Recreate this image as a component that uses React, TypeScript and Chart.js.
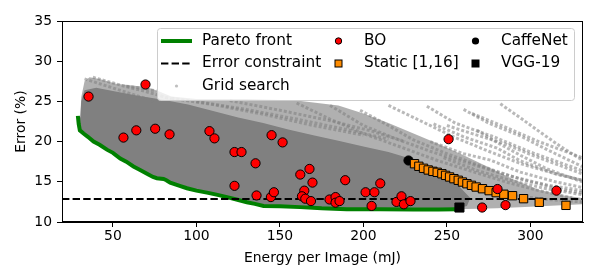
import React, { useEffect, useRef } from 'react';
import { Chart, registerables } from 'chart.js';

Chart.register(...registerables);

const FONT = '"DejaVu Sans", "Liberation Sans", sans-serif';

const xTicks = [50, 100, 150, 200, 250, 300];
const yTicks = [10, 15, 20, 25, 30, 35];

const paretoX = [29.0, 29.5, 30.2, 32.4, 35, 38.4, 42, 46.4, 50, 54.4, 58, 62.3, 66, 70.4, 74, 76.3, 80.3, 82, 84.3, 90, 94.3, 100, 106.3, 112, 118.3, 124, 130.2, 135, 140.2, 150, 162, 175, 190, 210, 230, 245, 256];
const paretoY = [23.2, 22.2, 21.4, 21.0, 20.6, 20.0, 19.6, 19.0, 18.6, 17.9, 17.5, 16.9, 16.5, 16.0, 15.6, 15.45, 15.35, 15.2, 14.9, 14.5, 14.2, 13.9, 13.65, 13.4, 13.1, 12.8, 12.45, 12.25, 12.0, 11.95, 11.85, 11.7, 11.6, 11.6, 11.55, 11.55, 11.6];

const errorConstraint = 12.85;

const boX = [35.4, 69.5, 56.3, 64, 75.3, 83.9, 107.8, 110.8, 122.8, 127, 135.4, 122.8, 136, 145, 151.6, 144.6, 146.4, 162.2, 167.7, 169.5, 164.6, 163.2, 165.2, 168.6, 189.1, 179.7, 183.3, 183.3, 185.7, 210.1, 201.3, 206.6, 204.9, 219.8, 222.8, 224.2, 228.2, 251, 271.1, 280.3, 285.1, 315.6];
const boY = [25.6, 27.1, 20.5, 21.4, 21.6, 20.9, 21.3, 20.4, 18.7, 18.7, 17.3, 14.5, 13.3, 20.8, 19.9, 13.1, 13.7, 15.9, 16.6, 14.9, 13.9, 13.2, 12.9, 12.6, 15.2, 12.8, 13.1, 12.4, 12.6, 14.8, 13.7, 13.7, 12.0, 12.5, 13.2, 12.2, 12.6, 20.3, 11.8, 14.1, 12.1, 13.9];

const staticX = [230.6, 233.2, 236.0, 238.8, 241.6, 244.2, 247.0, 249.2, 251.6, 254.2, 256.8, 259.3, 262.0, 264.7, 267.5, 271.3, 275.3, 279.5, 284.1, 289.3, 295.9, 305.3, 321.3];
const staticY = [17.25, 16.93, 16.68, 16.47, 16.3, 16.18, 16.0, 15.8, 15.6, 15.39, 15.19, 14.97, 14.76, 14.56, 14.35, 14.14, 13.9, 13.65, 13.45, 13.27, 12.9, 12.45, 12.07];

const caffeNetX = [227.0];
const caffeNetY = [17.65];
const vggX = [257.5];
const vggY = [11.8];

// Grid search: envelope of the dense core and of the streaky spread
const gridCoreTopX = [30.5, 31, 33, 40, 50, 65, 80, 95, 110, 125, 140, 155, 170, 185, 200, 215, 228, 240, 250, 258, 264, 262, 256];
const gridCoreTopY = [23.0, 25.0, 26.4, 26.7, 26.3, 25.7, 25.2, 24.6, 23.8, 23.0, 22.3, 21.5, 20.8, 20.1, 19.4, 18.7, 17.9, 16.8, 15.6, 14.3, 13.0, 12.0, 11.7];
const gridSpreadTopX = [30.5, 31, 33, 36, 42, 52, 60, 70, 77, 85, 100, 130, 160, 185, 200, 215, 230, 245, 260, 275, 290, 305, 320, 331, 331, 300, 280, 256];
const gridSpreadTopY = [23.0, 25.5, 27.5, 28.0, 27.8, 27.2, 27.0, 26.8, 26.3, 25.6, 25.3, 25.3, 25.1, 24.5, 23.5, 22.3, 21.0, 19.7, 18.3, 16.8, 15.3, 14.0, 13.3, 13.0, 12.2, 11.9, 11.7, 11.6];

const gridTrailsX = [
  [282, 295, 305, 318, 331],
  [260, 275, 294, 310, 331],
  [238, 255, 278, 300, 331],
  [242, 260, 280, 294, 315, 331],
  [240, 260, 276, 294, 315, 331],
  [268, 280, 294, 310, 331],
  [198, 215, 230, 250, 270, 290, 310, 331],
  [215, 235, 255, 275, 295, 315, 331],
  [180, 200, 220, 240, 260, 280, 300, 320, 331],
  [160, 180, 200, 220, 245, 265, 285, 305, 325],
  [250, 268, 285, 300, 318, 331],
  [265, 285, 305, 331],
  [230, 250, 270, 290, 310, 331],
  [248, 268, 288, 308, 331],
  [33, 45, 60, 75],
  [38, 55, 70, 85],
  [58, 68, 76],
  [100, 130, 160, 190, 215],
  [120, 150, 180, 205, 225],
  [85, 110, 140, 170, 200],
];
const gridTrailsY = [
  [24.7, 22.8, 21.3, 19.4, 17.7],
  [24.0, 22.3, 20.7, 19.0, 16.9],
  [24.4, 22.3, 20.6, 18.7, 16.4],
  [22.2, 20.6, 19.2, 17.6, 16.0, 15.2],
  [20.0, 18.5, 17.7, 16.2, 15.0, 14.3],
  [21.4, 19.9, 18.3, 16.6, 15.0],
  [23.9, 22.0, 20.2, 18.5, 17.0, 15.6, 14.6, 13.9],
  [24.5, 22.5, 20.5, 18.8, 17.2, 16.0, 15.2],
  [24.5, 22.0, 20.3, 18.8, 17.5, 16.2, 15.0, 14.0, 13.6],
  [24.8, 22.8, 21.0, 19.5, 17.6, 16.3, 15.0, 13.9, 13.0],
  [22.0, 20.8, 19.7, 18.4, 17.0, 16.0],
  [23.5, 21.8, 20.0, 18.0],
  [16.5, 15.0, 14.0, 13.3, 12.8, 12.5],
  [18.0, 16.4, 15.2, 14.2, 13.4],
  [27.8, 27.0, 26.0, 25.0],
  [28.0, 27.0, 26.2, 25.3],
  [26.9, 26.6, 26.3],
  [25.0, 24.0, 22.8, 21.5, 20.3],
  [25.1, 23.9, 22.6, 21.3, 20.0],
  [25.4, 24.6, 23.4, 22.0, 20.8],
];

const legendLabels = ['Pareto front', 'Error constraint', 'Grid search', 'BO', 'Static [1,16]', 'CaffeNet', 'VGG-19'];

const pts = (xs: number[], ys: number[]) => xs.map((x, i) => ({ x, y: ys[i] }));

const envelopePlugin = {
  id: 'envelope',
  beforeDatasetsDraw(chart: any) {
    const { ctx, chartArea, scales } = chart;
    const sx = scales.x, sy = scales.y;
    ctx.save();
    ctx.beginPath();
    ctx.rect(chartArea.left, chartArea.top, chartArea.right - chartArea.left, chartArea.bottom - chartArea.top);
    ctx.clip();
    const poly = (tx: number[], ty: number[], fill: string) => {
      ctx.beginPath();
      tx.forEach((x, i) => {
        const px = sx.getPixelForValue(x), py = sy.getPixelForValue(ty[i]);
        if (i === 0) ctx.moveTo(px, py); else ctx.lineTo(px, py);
      });
      for (let i = paretoX.length - 1; i >= 0; i--) {
        ctx.lineTo(sx.getPixelForValue(paretoX[i]), sy.getPixelForValue(paretoY[i]));
      }
      ctx.closePath();
      ctx.fillStyle = fill;
      ctx.fill();
    };
    poly(gridSpreadTopX, gridSpreadTopY, 'rgba(128,128,128,0.62)');
    poly(gridCoreTopX, gridCoreTopY, 'rgb(128,128,128)');
    ctx.restore();
  },
};

const framePlugin = {
  id: 'frameLegend',
  afterDraw(chart: any) {
    const { ctx, chartArea } = chart;
    ctx.save();
    ctx.strokeStyle = '#000';
    ctx.lineWidth = 1;
    ctx.strokeRect(Math.round(chartArea.left) + 0.5, Math.round(chartArea.top) + 0.5,
      Math.round(chartArea.right - chartArea.left) - 1, Math.round(chartArea.bottom - chartArea.top) - 1);

    // legend box
    const L = 157.5, T = 28.5, R = 574.5, B = 100.5, r = 3;
    ctx.beginPath();
    ctx.moveTo(L + r, T);
    ctx.lineTo(R - r, T);
    ctx.quadraticCurveTo(R, T, R, T + r);
    ctx.lineTo(R, B - r);
    ctx.quadraticCurveTo(R, B, R - r, B);
    ctx.lineTo(L + r, B);
    ctx.quadraticCurveTo(L, B, L, B - r);
    ctx.lineTo(L, T + r);
    ctx.quadraticCurveTo(L, T, L + r, T);
    ctx.closePath();
    ctx.fillStyle = 'rgba(255,255,255,0.8)';
    ctx.fill();
    ctx.strokeStyle = '#cccccc';
    ctx.stroke();

    const rows = [41, 63.5, 86];
    ctx.lineWidth = 4;
    ctx.strokeStyle = '#008000';
    ctx.beginPath(); ctx.moveTo(161, rows[0]); ctx.lineTo(192, rows[0]); ctx.stroke();
    ctx.lineWidth = 2;
    ctx.strokeStyle = '#000';
    ctx.setLineDash([7.4, 3.2]);
    ctx.beginPath(); ctx.moveTo(161, rows[1]); ctx.lineTo(192, rows[1]); ctx.stroke();
    ctx.setLineDash([]);
    ctx.fillStyle = 'rgba(128,128,128,0.5)';
    ctx.beginPath(); ctx.arc(176.5, rows[2], 1.6, 0, Math.PI * 2); ctx.fill();

    ctx.lineWidth = 1;
    ctx.strokeStyle = '#000';
    ctx.fillStyle = '#ff0000';
    ctx.beginPath(); ctx.arc(338.5, rows[0], 3.2, 0, Math.PI * 2); ctx.fill(); ctx.stroke();
    ctx.fillStyle = '#ff8c00';
    ctx.fillRect(335, rows[1] - 3.5, 7, 7); ctx.strokeRect(335, rows[1] - 3.5, 7, 7);
    ctx.fillStyle = '#000';
    ctx.beginPath(); ctx.arc(475.5, rows[0], 3.6, 0, Math.PI * 2); ctx.fill();
    ctx.fillRect(471.5, rows[1] - 4, 8, 8);

    ctx.fillStyle = '#000';
    ctx.font = `15.3px ${FONT}`;
    ctx.textBaseline = 'middle';
    ctx.textAlign = 'left';
    ctx.fillText(legendLabels[0], 202, rows[0]);
    ctx.fillText(legendLabels[1], 202, rows[1]);
    ctx.fillText(legendLabels[2], 202, rows[2]);
    ctx.fillText(legendLabels[3], 364, rows[0]);
    ctx.fillText(legendLabels[4], 364, rows[1]);
    ctx.fillText(legendLabels[5], 501, rows[0]);
    ctx.fillText(legendLabels[6], 501, rows[1]);
    ctx.restore();
  },
};

export default function App() {
  const ref = useRef<HTMLCanvasElement | null>(null);
  useEffect(() => {
    if (!ref.current) return;
    const tickFont = { family: FONT, size: 13.9 };
    const trailSets = gridTrailsX.map((xs, i) => ({
      label: 'trail' + i,
      data: pts(xs, gridTrailsY[i]),
      showLine: true,
      borderColor: 'rgba(128,128,128,0.55)',
      borderWidth: 3,
      borderDash: [3, 2],
      pointRadius: 0,
      order: 20,
    }));
    const chart = new Chart(ref.current, {
      type: 'scatter',
      data: {
        datasets: [
          ...trailSets,
          {
            label: 'Pareto front',
            data: pts(paretoX, paretoY),
            showLine: true,
            borderColor: '#008000',
            borderWidth: 4,
            pointRadius: 0,
            order: 15,
          },
          {
            label: 'Error constraint',
            data: [{ x: 19.5, y: errorConstraint }, { x: 331.5, y: errorConstraint }],
            showLine: true,
            borderColor: '#000',
            borderWidth: 2,
            borderDash: [7.4, 3.2],
            pointRadius: 0,
            order: 14,
          },
          {
            label: 'CaffeNet',
            data: pts(caffeNetX, caffeNetY),
            pointStyle: 'circle',
            pointRadius: 4.6,
            backgroundColor: '#000',
            borderColor: '#000',
            borderWidth: 1,
            order: 12,
          },
          {
            label: 'Static [1,16]',
            data: pts(staticX, staticY),
            pointStyle: 'rect',
            pointRadius: 5.9,
            backgroundColor: '#ff8c00',
            borderColor: '#000',
            borderWidth: 1,
            order: 11,
          },
          {
            label: 'BO',
            data: pts(boX, boY),
            pointStyle: 'circle',
            pointRadius: 4.6,
            backgroundColor: '#ff0000',
            borderColor: '#000',
            borderWidth: 1,
            order: 10,
          },
          {
            label: 'VGG-19',
            data: pts(vggX, vggY),
            pointStyle: 'rect',
            pointRadius: 6.4,
            backgroundColor: '#000',
            borderColor: '#000',
            borderWidth: 1,
            order: 9,
          },
        ],
      },
      options: {
        animation: false,
        responsive: false,
        maintainAspectRatio: false,
        layout: { padding: { left: 0, top: 21, right: 17, bottom: 0 } },
        plugins: { legend: { display: false }, tooltip: { enabled: false } },
        scales: {
          x: {
            type: 'linear',
            min: 19.5,
            max: 331.5,
            afterBuildTicks: (s: any) => { s.ticks = xTicks.map((v) => ({ value: v })); },
            afterFit: (s: any) => { s.height = 58; },
            grid: { display: true, drawOnChartArea: false, drawTicks: true, tickLength: 5, color: '#000' },
            border: { display: true, color: '#000', width: 1 },
            ticks: { color: '#000', font: tickFont, padding: 1, maxRotation: 0 },
            title: { display: true, text: 'Energy per Image (mJ)', color: '#000', font: tickFont, padding: { top: 0, bottom: 13 } },
          },
          y: {
            type: 'linear',
            min: 10,
            max: 35,
            afterBuildTicks: (s: any) => { s.ticks = yTicks.map((v) => ({ value: v })); },
            afterFit: (s: any) => { s.width = 62; },
            grid: { display: true, drawOnChartArea: false, drawTicks: true, tickLength: 5, color: '#000' },
            border: { display: true, color: '#000', width: 1 },
            ticks: { color: '#000', font: tickFont, padding: 5 },
            title: { display: true, text: 'Error (%)', color: '#000', font: tickFont, padding: { top: 13.4, bottom: 0 } },
          },
        },
      },
      plugins: [envelopePlugin, framePlugin],
    });
    return () => chart.destroy();
  }, []);
  return (
    <div style={{ position: 'absolute', left: 0, top: 0, width: 600, height: 280, background: '#fff' }}>
      <canvas ref={ref} width={600} height={280} style={{ width: 600, height: 280 }} />
    </div>
  );
}
